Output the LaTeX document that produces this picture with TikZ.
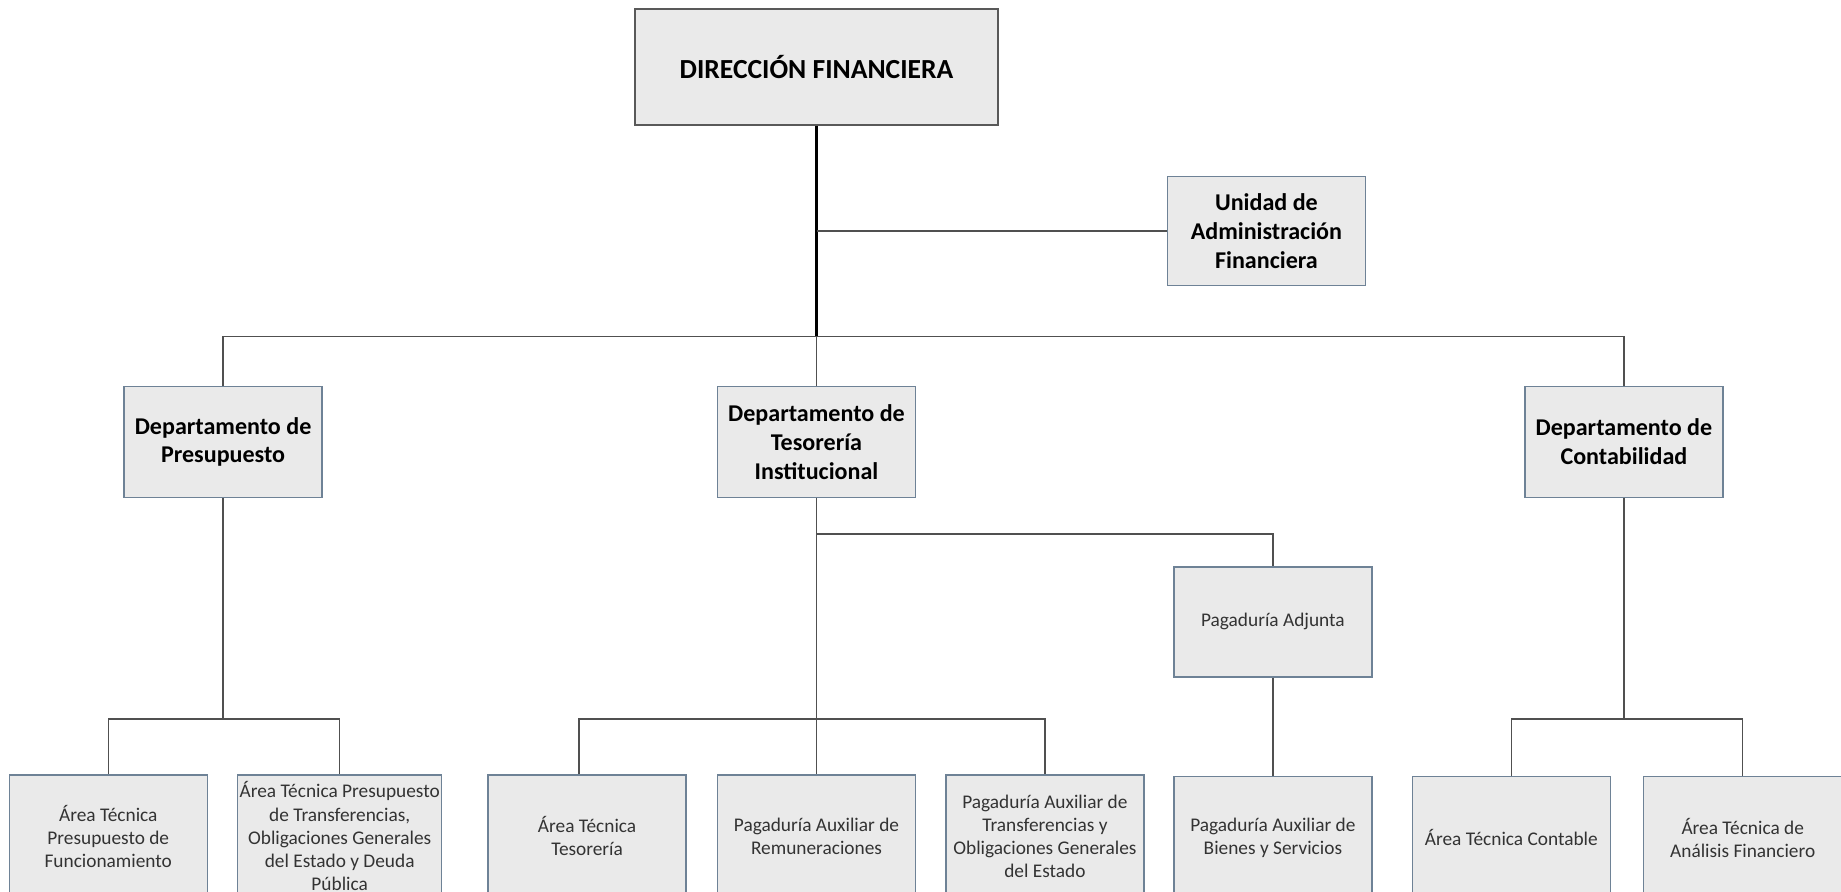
\documentclass[tikz,border=0pt]{standalone}
\usepackage{fontspec}
\setmainfont{Carlito}
\usetikzlibrary{positioning}
\definecolor{boxfill}{HTML}{EAEAEA}
\definecolor{boxline}{HTML}{6E8296}
\definecolor{wire}{HTML}{505050}
\definecolor{txtgray}{HTML}{333333}

\begin{document}
\begin{tikzpicture}[
    unit/.style={draw=boxline, line width=0.8pt, fill=boxfill, align=center, inner sep=2pt},
    head/.style={unit, font=\bfseries\fontsize{13.7}{16.4}\selectfont, minimum width=3.96cm, minimum height=2.22cm},
    area/.style={unit, text=txtgray, font=\fontsize{11}{13.2}\selectfont, minimum width=3.96cm, minimum height=2.46cm},
    link/.style={draw=wire, line width=0.85pt},
    trunk/.style={draw=black, line width=1.7pt}
]
    \useasboundingbox (0,0) rectangle (36.82,-17.84);
    \node[unit, draw=black!65, minimum width=7.26cm, minimum height=2.32cm, font=\bfseries\fontsize{15.7}{19}\selectfont] (dir) at (16.33,-1.34) {DIRECCIÓN FINANCIERA};
    \node[head, below right=1cm and 3.36cm of dir, minimum height=2.18cm] (uaf) {Unidad de\\Administración\\Financiera};
    \node[head, below=5.2cm of dir] (tes) {Departamento de\\Tesorería\\Institucional};
    \node[head, left=7.88cm of tes] (pres) {Departamento de\\Presupuesto};
    \node[head, right=12.16cm of tes] (cont) {Departamento de\\Contabilidad};
    \node[area, below right=1.36cm and 5.14cm of tes, minimum height=2.2cm] (adj) {Pagaduría Adjunta};
    \node[area, below=5.52cm of tes] (remu) {Pagaduría Auxiliar de\\Remuneraciones};
    \node[area, left=0.6cm of remu] (ateso) {Área Técnica\\Tesorería};
    \node[area, left=0.9cm of ateso, minimum width=4.08cm, inner xsep=0.5pt] (deuda) {Área Técnica Presupuesto\\de Transferencias,\\Obligaciones Generales\\del Estado y Deuda\\Pública};
    \node[area, left=0.58cm of deuda] (func) {Área Técnica\\Presupuesto de\\Funcionamiento};
    \node[area, right=0.58cm of remu] (trans) {Pagaduría Auxiliar de\\Transferencias y\\Obligaciones Generales\\del Estado};
    \node[area, below=1.96cm of adj] (bienes) {Pagaduría Auxiliar de\\Bienes y Servicios};
    \node[area, right=0.78cm of bienes] (conta) {Área Técnica Contable};
    \node[area, right=0.64cm of conta] (anal) {Área Técnica de\\Análisis Financiero};

    \coordinate[above=0.98cm of tes] (hub);
    \coordinate[below=0.72cm of tes] (tesknee);
    \coordinate[above=1.1cm of remu] (tesbar);
    \draw[trunk] (dir) -- (hub);
    \draw[link] (uaf.west -| dir.south) -- (uaf);
    \draw[link] (pres) |- (hub) -| (cont);
    \draw[link] (hub) -- (tes);
    \draw[link] (tes) -- (remu);
    \draw[link] (tesknee) -| (adj);
    \draw[link] ([xshift=-0.16cm]ateso.north) |- (tesbar) -| (trans);
    \draw[link] (adj) -- (bienes);
    \draw[link] (pres) -- (pres |- tesbar);
    \draw[link] (func) |- (pres |- tesbar) -| (deuda);
    \draw[link] (cont) -- (cont |- tesbar);
    \draw[link] (conta) |- (cont |- tesbar) -| (anal);
\end{tikzpicture}
\end{document}
